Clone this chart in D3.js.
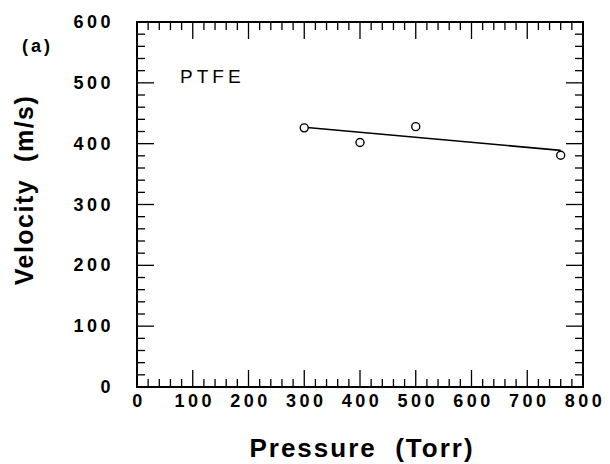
<!DOCTYPE html>
<html>
<head>
<meta charset="utf-8">
<script src="https://cdn.jsdelivr.net/npm/d3@7"></script>
<style>
body { margin: 0; background: #fff; }
text { font-family: "Liberation Sans", Arial, sans-serif; }
</style>
</head>
<body>
<div id="workspace"></div>
<script>
// data
var pressure = [300, 400, 500, 760];
var velocity = [426, 402, 428, 381];
var fitX = [300, 760];
var fitY = [427, 389];
var xTicks = [0, 100, 200, 300, 400, 500, 600, 700, 800];
var yTicks = [0, 100, 200, 300, 400, 500, 600];

var svg = d3.select("#workspace")
	.append("svg")
	.attr("width", 610)
	.attr("height", 464);

// plot frame in pixels
var pLeft = 137, pRight = 583, pTop = 22, pBottom = 387;

var x = d3.scaleLinear().domain([0, 800]).range([pLeft, pRight]);
var y = d3.scaleLinear().domain([0, 600]).range([pBottom, pTop]);

var minorX = d3.range(0, 801, 20);
var minorY = d3.range(0, 601, 20);

svg.append("rect")
	.attr("x", pLeft)
	.attr("y", pTop)
	.attr("width", pRight - pLeft)
	.attr("height", pBottom - pTop)
	.attr("fill", "none")
	.attr("stroke", "black")
	.attr("stroke-width", 2);

// ticks, all pointing inward
function tickLen(v) { return v % 100 == 0 ? 17 : 8; }

var g = svg.append("g").attr("stroke", "black").attr("stroke-width", 1.3);
minorX.forEach(function(v) {
	g.append("line").attr("x1", x(v)).attr("x2", x(v))
		.attr("y1", pBottom).attr("y2", pBottom - tickLen(v));
	g.append("line").attr("x1", x(v)).attr("x2", x(v))
		.attr("y1", pTop).attr("y2", pTop + tickLen(v));
});
minorY.forEach(function(v) {
	g.append("line").attr("y1", y(v)).attr("y2", y(v))
		.attr("x1", pLeft).attr("x2", pLeft + tickLen(v));
	g.append("line").attr("y1", y(v)).attr("y2", y(v))
		.attr("x1", pRight).attr("x2", pRight - tickLen(v));
});

// tick labels
svg.selectAll(".xl").data(xTicks).enter().append("text")
	.attr("x", function(d) { return x(d) + 2; })
	.attr("y", 407)
	.attr("text-anchor", "middle")
	.attr("font-size", "18px")
	.attr("font-weight", "bold")
	.attr("letter-spacing", "3.5px")
	.text(function(d) { return d; });

svg.selectAll(".yl").data(yTicks).enter().append("text")
	.attr("x", 114)
	.attr("y", function(d) { return y(d) + 6; })
	.attr("text-anchor", "end")
	.attr("font-size", "18px")
	.attr("font-weight", "bold")
	.attr("letter-spacing", "3.5px")
	.text(function(d) { return d; });

// axis titles
svg.append("text")
	.attr("x", 362)
	.attr("y", 457)
	.attr("text-anchor", "middle")
	.attr("font-size", "26px")
	.attr("font-weight", "bold")
	.attr("letter-spacing", "2px")
	.attr("xml:space", "preserve")
	.text("Pressure  (Torr)");

svg.append("text")
	.attr("transform", "translate(33,190) rotate(-90)")
	.attr("text-anchor", "middle")
	.attr("font-size", "25px")
	.attr("font-weight", "bold")
	.attr("letter-spacing", "1.5px")
	.attr("xml:space", "preserve")
	.text("Velocity  (m/s)");

svg.append("text")
	.attr("x", 22)
	.attr("y", 52)
	.attr("font-size", "18px")
	.attr("font-weight", "bold")
	.attr("letter-spacing", "3px")
	.text("(a)");

svg.append("text")
	.attr("x", 180)
	.attr("y", 83)
	.attr("font-size", "19px")
	.attr("letter-spacing", "4px")
	.text("PTFE");

// fit line
svg.append("line")
	.attr("x1", x(fitX[0])).attr("y1", y(fitY[0]))
	.attr("x2", x(fitX[1])).attr("y2", y(fitY[1]))
	.attr("stroke", "black")
	.attr("stroke-width", 1.6);

// points
svg.selectAll(".pt").data(pressure).enter().append("circle")
	.attr("cx", function(d) { return x(d); })
	.attr("cy", function(d, i) { return y(velocity[i]); })
	.attr("r", 4)
	.attr("fill", "white")
	.attr("stroke", "black")
	.attr("stroke-width", 1.4);
</script>
</body>
</html>
